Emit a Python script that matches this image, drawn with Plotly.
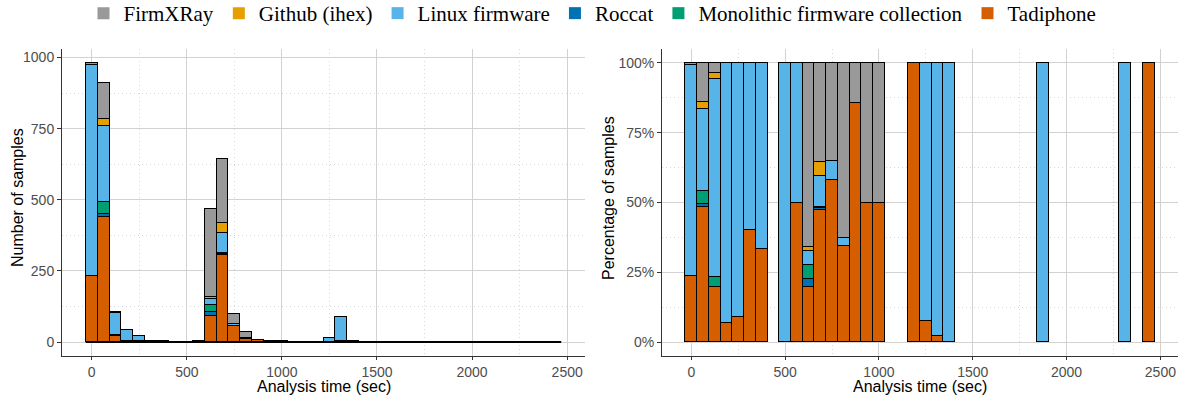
import plotly.graph_objects as go

# Histogram of analysis times, 40 bins of 62.5 s, counts per firmware source
BIN_WIDTH = 62.5
bin_index = list(range(40))
bin_centers = [k * BIN_WIDTH for k in bin_index]

sources = ["Tadiphone", "Roccat", "Monolithic firmware collection",
           "Linux firmware", "Github (ihex)", "FirmXRay"]
legend_order = ["FirmXRay", "Github (ihex)", "Linux firmware", "Roccat",
                "Monolithic firmware collection", "Tadiphone"]
colors = {
    "FirmXRay": "#999999",
    "Github (ihex)": "#E69F00",
    "Linux firmware": "#56B4E9",
    "Roccat": "#0072B2",
    "Monolithic firmware collection": "#009E73",
    "Tadiphone": "#D55E00",
}

# counts per bin (bin index -> count); bins not listed are empty
tadiphone = {0: 232, 1: 440, 2: 21, 3: 3, 4: 2, 5: 2, 6: 1, 9: 1, 10: 93, 11: 306,
             12: 58, 13: 12, 14: 6, 15: 2, 16: 1, 19: 1, 20: 1, 21: 2, 39: 1}
roccat = {1: 10, 10: 13, 11: 4}
monolithic = {1: 44, 2: 4, 10: 23, 11: 3}
linux_fw = {0: 741, 1: 267, 2: 76, 3: 40, 4: 20, 5: 3, 6: 2, 8: 1, 9: 1, 10: 24,
            11: 70, 12: 7, 13: 1, 20: 12, 21: 86, 22: 2, 30: 1, 37: 1}
github_ihex = {1: 22, 2: 2, 10: 6, 11: 34}
firmxray = {0: 8, 1: 127, 2: 4, 10: 310, 11: 228, 12: 35, 13: 22, 14: 1, 15: 2, 16: 1}

series_counts = {
    "Tadiphone": tadiphone,
    "Roccat": roccat,
    "Monolithic firmware collection": monolithic,
    "Linux firmware": linux_fw,
    "Github (ihex)": github_ihex,
    "FirmXRay": firmxray,
}

counts = {s: [series_counts[s].get(k, 0) for k in bin_index] for s in sources}
totals = [sum(counts[s][k] for s in sources) for k in bin_index]

fig = go.Figure()

# left panel: stacked counts
for s in sources:
    fig.add_trace(go.Bar(
        x=bin_centers, y=counts[s], width=BIN_WIDTH,
        marker=dict(color=colors[s], line=dict(color="black", width=1.2)),
        showlegend=False, xaxis="x", yaxis="y", name=s))

# outline of the empty bins along the baseline
fig.add_trace(go.Scatter(
    x=[bin_centers[0] - BIN_WIDTH / 2, bin_centers[-1] + BIN_WIDTH / 2], y=[0, 0],
    mode="lines", line=dict(color="black", width=2),
    showlegend=False, hoverinfo="skip", xaxis="x", yaxis="y"))

# right panel: stacked share of each bin
for s in sources:
    share = [counts[s][k] / totals[k] if totals[k] > 0 else None for k in bin_index]
    fig.add_trace(go.Bar(
        x=bin_centers, y=share, width=BIN_WIDTH,
        marker=dict(color=colors[s], line=dict(color="black", width=1.2)),
        showlegend=False, xaxis="x2", yaxis="y2", name=s))

# legend keys
for s in legend_order:
    fig.add_trace(go.Scatter(
        x=[None], y=[None], mode="markers", name=s,
        marker=dict(symbol="square", size=12, color=colors[s]),
        xaxis="x", yaxis="y"))

tick_font = dict(family="Liberation Sans", size=14, color="#4D4D4D")
title_font = dict(family="Liberation Sans", size=16, color="black")
grid_major = "#D2D2D2"
grid_minor = "#D8D8D8"
minor_dash = "1px,3px"

x_range = [bin_centers[0] - BIN_WIDTH / 2 - 125, bin_centers[-1] + BIN_WIDTH / 2 + 125]
y_dom = [1 - 356 / 396, 1 - 49 / 396]

xaxis_common = dict(
    range=x_range, tickvals=[0, 500, 1000, 1500, 2000, 2500],
    showgrid=True, gridcolor=grid_major, gridwidth=1,
    minor=dict(tickvals=[250, 750, 1250, 1750, 2250], showgrid=True,
               gridcolor=grid_minor, griddash=minor_dash, gridwidth=1),
    showline=True, linecolor="#333333", linewidth=1,
    ticks="outside", ticklen=3, tickcolor="#333333",
    tickfont=tick_font, zeroline=False,
)

yaxis_common = dict(
    domain=y_dom,
    showgrid=True, gridcolor=grid_major, gridwidth=1,
    showline=True, linecolor="#333333", linewidth=1,
    ticks="outside", ticklen=4, tickcolor="#333333",
    tickfont=tick_font, zeroline=False,
)

left_dom = [62 / 1185, 585 / 1185]
right_dom = [662 / 1185, 1178 / 1185]


def axis_title(text, x, y, angle):
    return dict(text=text, xref="paper", yref="paper", x=x, y=y,
                xanchor="center", yanchor="middle", textangle=angle,
                showarrow=False, font=title_font)


fig.update_layout(
    width=1185, height=396,
    margin=dict(l=0, r=0, t=0, b=0, autoexpand=False),
    paper_bgcolor="white", plot_bgcolor="white",
    barmode="stack", bargap=0,
    font=dict(family="Liberation Sans"),
    xaxis=dict(xaxis_common, domain=left_dom, anchor="y"),
    xaxis2=dict(xaxis_common, domain=right_dom, anchor="y2"),
    yaxis=dict(
        yaxis_common, anchor="x", range=[-49, 1030],
        tickvals=[0, 250, 500, 750, 1000],
        minor=dict(tickvals=[125, 375, 625, 875], showgrid=True,
                   gridcolor=grid_minor, griddash=minor_dash, gridwidth=1),
    ),
    yaxis2=dict(
        yaxis_common, anchor="x2", range=[-0.05, 1.05],
        tickvals=[0, 0.25, 0.5, 0.75, 1.0],
        ticktext=["0%", "25%", "50%", "75%", "100%"],
        minor=dict(tickvals=[0.125, 0.375, 0.625, 0.875], showgrid=True,
                   gridcolor=grid_minor, griddash=minor_dash, gridwidth=1),
    ),
    legend=dict(
        orientation="h", x=0.5, xanchor="center", y=1 + 7 / 396, yanchor="top",
        traceorder="normal",
        font=dict(family="Liberation Serif", size=21, color="black"),
        itemwidth=30, bgcolor="rgba(0,0,0,0)",
    ),
    annotations=[
        axis_title("Number of samples", 17 / 1185, 1 - 198 / 396, -90),
        axis_title("Percentage of samples", 608 / 1185, 1 - 198 / 396, -90),
        axis_title("Analysis time (sec)", sum(left_dom) / 2, 1 - 386.5 / 396, 0),
        axis_title("Analysis time (sec)", sum(right_dom) / 2, 1 - 386.5 / 396, 0),
    ],
)

fig.write_html("out.html")
